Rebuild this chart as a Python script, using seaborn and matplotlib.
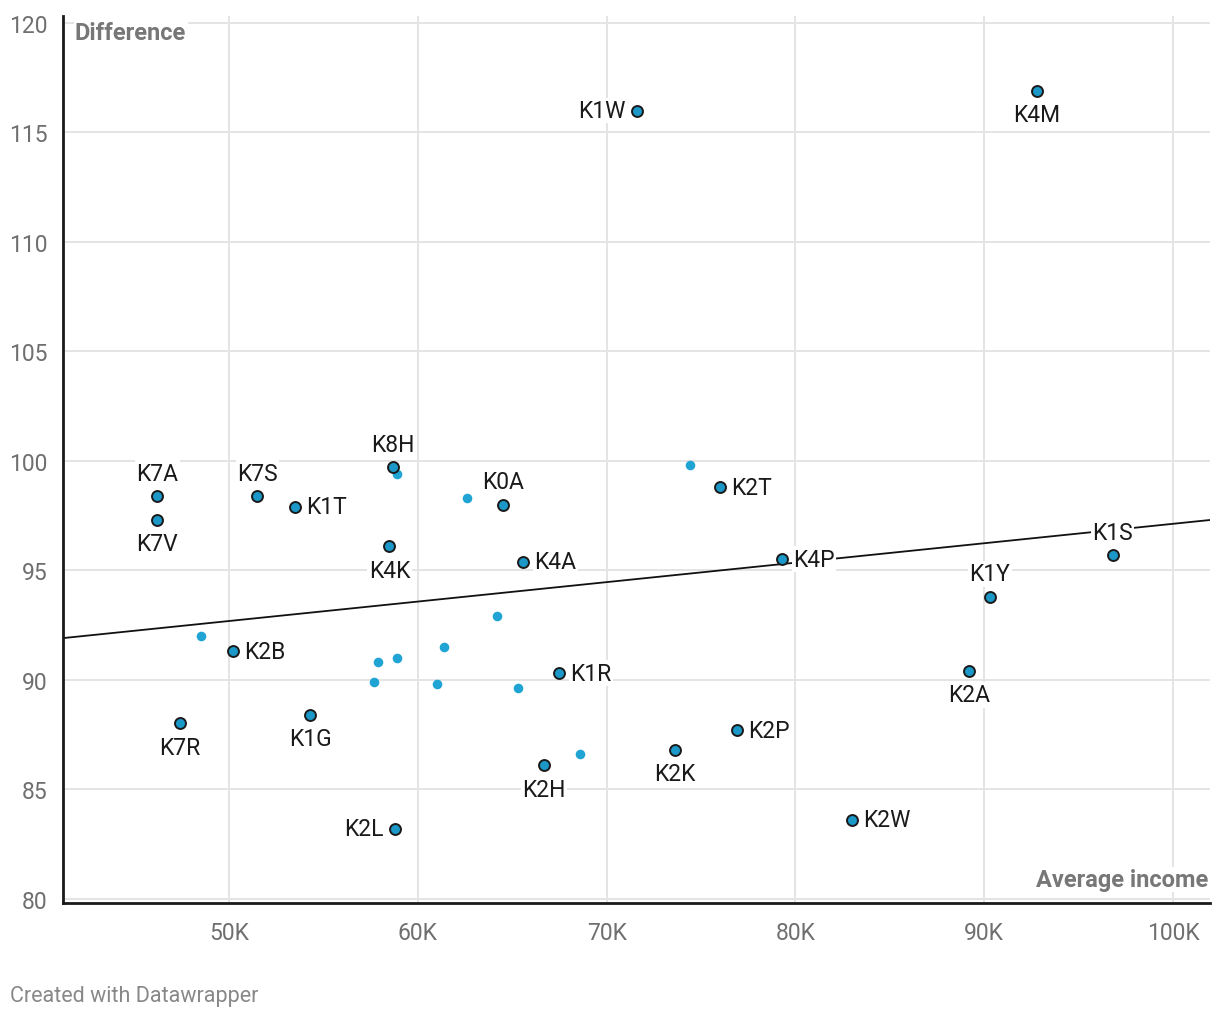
import matplotlib
matplotlib.use("Agg")
import matplotlib.pyplot as plt
import seaborn as sns
import pandas as pd
import numpy as np

# Labeled points (average income in K, difference)
lab_names = ["K1W", "K4M", "K8H", "K7A", "K7V", "K7S", "K1T", "K0A", "K4K", "K4A",
             "K2T", "K4P", "K1S", "K1Y", "K2A", "K2B", "K1R", "K7R", "K1G", "K2P",
             "K2K", "K2H", "K2W", "K2L"]
lab_income = [71.6, 92.8, 58.7, 46.2, 46.2, 51.5, 53.5, 64.5, 58.5, 65.6,
              76.0, 79.3, 96.8, 90.3, 89.2, 50.2, 67.5, 47.4, 54.3, 76.9,
              73.6, 66.7, 83.0, 58.8]
lab_diff = [116.0, 116.9, 99.7, 98.4, 97.3, 98.4, 97.9, 98.0, 96.1, 95.4,
            98.8, 95.5, 95.7, 93.8, 90.4, 91.3, 90.3, 88.0, 88.4, 87.7,
            86.8, 86.1, 83.6, 83.2]
lab_pos = ["left", "bottom", "top", "top", "bottom", "top", "right", "top", "bottom", "right",
           "right", "right", "top", "top", "bottom", "right", "right", "bottom", "bottom", "right",
           "bottom", "bottom", "right", "left"]

# Unlabeled points
unl_income = [58.9, 62.6, 74.4, 64.2, 48.5, 61.4, 58.9, 57.9, 57.7, 61.0, 65.3, 68.6]
unl_diff = [99.4, 98.3, 99.8, 92.9, 92.0, 91.5, 91.0, 90.8, 89.9, 89.8, 89.6, 86.6]

# Trend line
trend_income = [41.2, 102.0]
trend_diff = [91.9, 97.3]

x_ticks = [50, 60, 70, 80, 90, 100]
x_ticklabels = ["50K", "60K", "70K", "80K", "90K", "100K"]
y_ticks = [80, 85, 90, 95, 100, 105, 110, 115, 120]

sns.set_theme(style="white")
plt.rcParams['font.family'] = ['Roboto', 'DejaVu Sans']

fig = plt.figure(figsize=(12.2, 10.2), dpi=100)
ax = fig.add_axes([63/1220, 1 - 904/1020, (1210 - 63)/1220, (904 - 17)/1020])

df_lab = pd.DataFrame({"income": lab_income, "diff": lab_diff, "name": lab_names, "pos": lab_pos})
df_unl = pd.DataFrame({"income": unl_income, "diff": unl_diff})
df_tr = pd.DataFrame({"income": trend_income, "diff": trend_diff})

sns.lineplot(data=df_tr, x="income", y="diff", ax=ax, color="#111111", linewidth=1.3, zorder=2)
sns.scatterplot(data=df_unl, x="income", y="diff", ax=ax, color="#1fa4d4", s=48,
                linewidth=0, zorder=3)
sns.scatterplot(data=df_lab, x="income", y="diff", ax=ax, color="#1b98c8", s=62,
                edgecolor="#1a1a1a", linewidth=1.4, zorder=4)

offsets = {"right": (8, 0, "left", "center"),
           "left": (-8, 0, "right", "center"),
           "top": (0, 8, "center", "bottom"),
           "bottom": (0, -9, "center", "top")}
for _, r in df_lab.iterrows():
    dx, dy, ha, va = offsets[r["pos"]]
    ax.annotate(r["name"], (r["income"], r["diff"]), xytext=(dx, dy), textcoords="offset points",
                ha=ha, va=va, fontsize=16.5, color="#1a1a1a", zorder=5,
                bbox=dict(facecolor="white", edgecolor="none", pad=1.0))

ax.set_xlim(41.21, 101.96)
ax.set_ylim(79.8, 120.32)
ax.set_xticks(x_ticks)
ax.set_xticklabels(x_ticklabels)
ax.set_yticks(y_ticks)
ax.tick_params(axis="both", length=0, labelsize=16.5, labelcolor="#6f6f6f")
ax.tick_params(axis="x", pad=13)
ax.tick_params(axis="y", pad=11)
ax.grid(True, color="#e4e4e4", linewidth=1.4)
ax.set_axisbelow(True)
for s in ["top", "right"]:
    ax.spines[s].set_visible(False)
for s in ["left", "bottom"]:
    ax.spines[s].set_color("#1a1a1a")
    ax.spines[s].set_linewidth(2)
ax.set_xlabel("")
ax.set_ylabel("")

fig.text(75/1220, 1 - 40/1020, "Difference", ha="left", va="baseline",
         fontsize=17, fontweight="bold", color="#777777", zorder=6,
         bbox=dict(facecolor="white", edgecolor="none", pad=1.0))
fig.text(1208/1220, 1 - 887/1020, "Average income", ha="right", va="baseline",
         fontsize=17, fontweight="bold", color="#777777", zorder=6,
         bbox=dict(facecolor="white", edgecolor="none", pad=1.0))

fig.text(10/1220, 1 - 997/1020, "Created with Datawrapper", ha="left", va="center",
         fontsize=15.5, color="#888888")

fig.savefig("out.png", dpi=100, facecolor="white")
